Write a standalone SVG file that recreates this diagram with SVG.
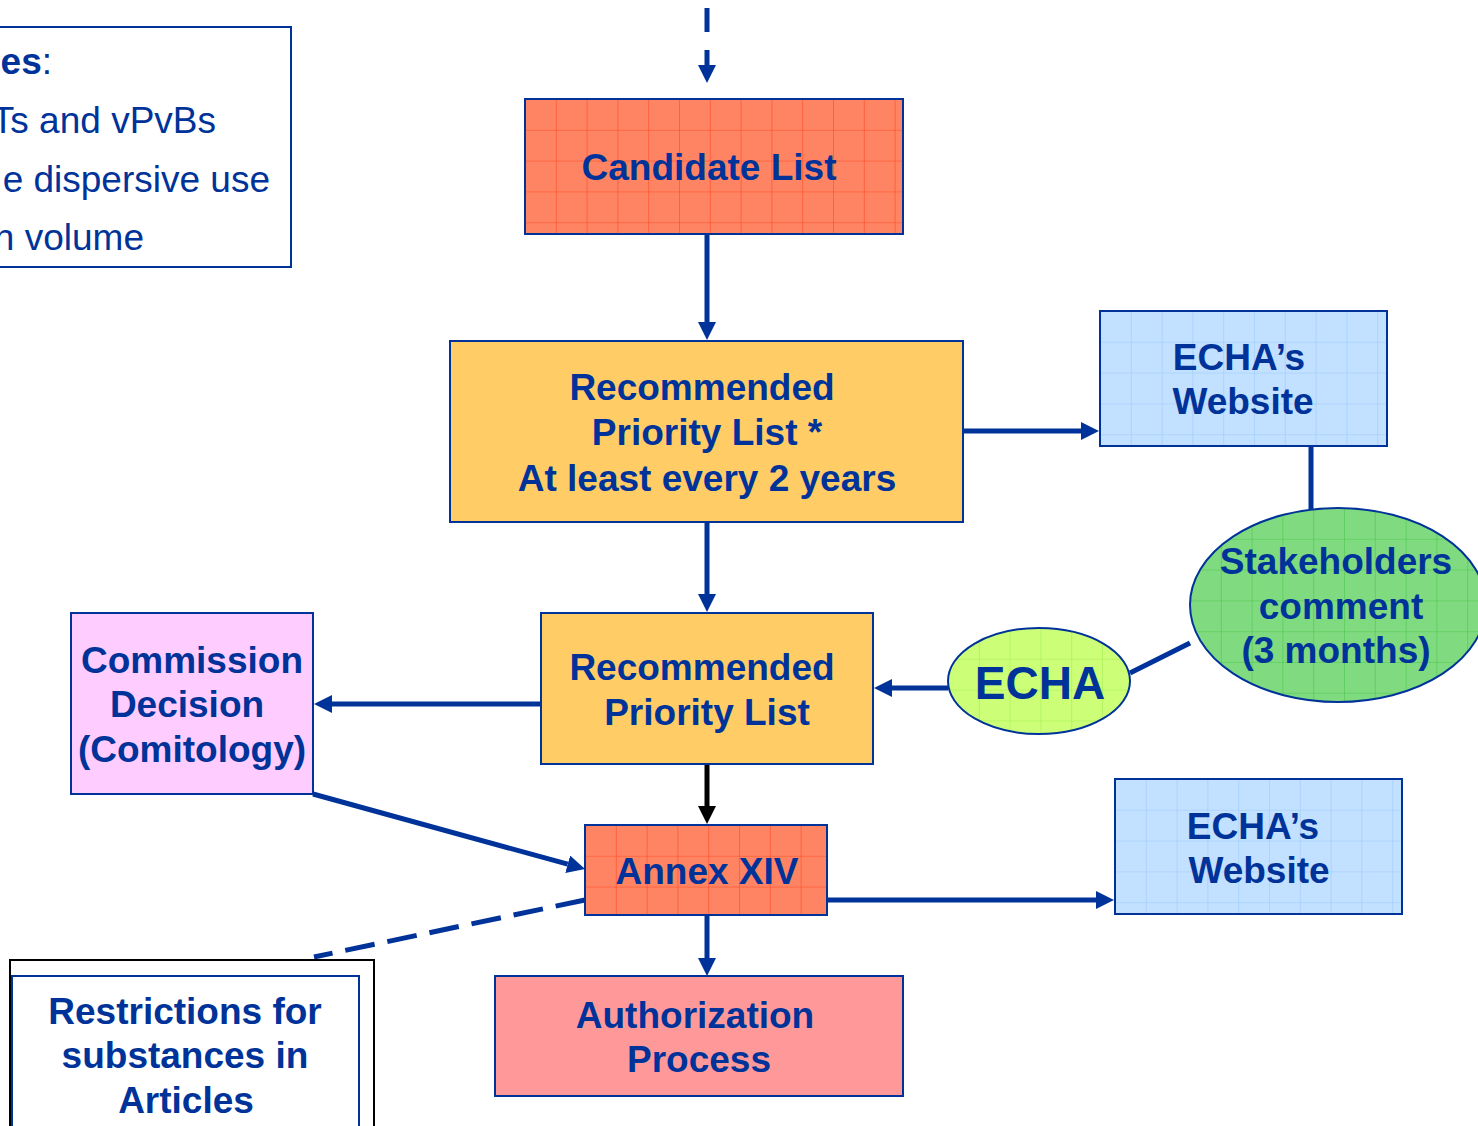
<svg xmlns="http://www.w3.org/2000/svg" width="1478" height="1126" viewBox="0 0 1478 1126">
<style>
.t{font-family:"Liberation Sans",Arial,sans-serif;font-weight:bold;font-size:37px;fill:#003399;text-anchor:middle}
.n{font-family:"Liberation Sans",Arial,sans-serif;font-size:37px;fill:#003399;text-anchor:end}
.box{stroke:#003399;stroke-width:2}
.c{stroke:#003399;stroke-width:5;fill:none}
.a{marker-end:url(#ah)}
</style>
<defs>
<marker id="ah" markerUnits="userSpaceOnUse" markerWidth="18" markerHeight="18" refX="0" refY="9" orient="auto"><path d="M0,0 L18,9 L0,18 z" fill="#003399"/></marker>
<marker id="ahk" markerUnits="userSpaceOnUse" markerWidth="18" markerHeight="18" refX="0" refY="9" orient="auto"><path d="M0,0 L18,9 L0,18 z" fill="#000"/></marker>
<pattern id="pCand" patternUnits="userSpaceOnUse" x="525" y="99" width="30.8" height="30.8"><rect width="30.8" height="30.8" fill="#FF8464"/><path d="M0,0 V30.8 M0,0 H30.8" stroke="#FF4A1F" stroke-width="1.2"/></pattern>
<pattern id="pAnnex" patternUnits="userSpaceOnUse" x="585" y="825" width="30.8" height="30.8"><rect width="30.8" height="30.8" fill="#FF8464"/><path d="M0,0 V30.8 M0,0 H30.8" stroke="#FF4A1F" stroke-width="1.2"/></pattern>
<pattern id="pWeb1" patternUnits="userSpaceOnUse" x="1100" y="311" width="30.8" height="30.8"><rect width="30.8" height="30.8" fill="#C2E0FF"/><path d="M0,0 V30.8 M0,0 H30.8" stroke="#9CCBFB" stroke-width="1.2"/></pattern>
<pattern id="pWeb2" patternUnits="userSpaceOnUse" x="1115" y="779" width="30.8" height="30.8"><rect width="30.8" height="30.8" fill="#C2E0FF"/><path d="M0,0 V30.8 M0,0 H30.8" stroke="#9CCBFB" stroke-width="1.2"/></pattern>
<pattern id="pStake" patternUnits="userSpaceOnUse" x="1190" y="508" width="30.8" height="30.8"><rect width="30.8" height="30.8" fill="#80DA80"/><path d="M0,0 V30.8 M0,0 H30.8" stroke="#4CC84C" stroke-width="1.2"/></pattern>
<pattern id="pEcha" patternUnits="userSpaceOnUse" x="948" y="628" width="30.8" height="30.8"><rect width="30.8" height="30.8" fill="#CCFF77"/><path d="M0,0 V30.8 M0,0 H30.8" stroke="#A6EC55" stroke-width="1.2"/></pattern>
</defs>

<g id="criteria">
<rect x="-10" y="27" width="301" height="240" fill="#fff" class="box"/>
<text class="n" x="52" y="74"><tspan font-weight="bold">es</tspan>:</text>
<text class="n" x="216" y="133">Ts and vPvBs</text>
<text class="n" x="270" y="192">e dispersive use</text>
<text class="n" x="144" y="250">n volume</text>
</g>

<g id="connectors">
<line class="c a" x1="707" y1="8" x2="707" y2="65" stroke-dasharray="24 18"/>
<line class="c a" x1="707" y1="234" x2="707" y2="322"/>
<line class="c a" x1="963" y1="431" x2="1081" y2="431"/>
<line class="c" x1="1311" y1="446" x2="1311" y2="509"/>
<line class="c" x1="1190" y1="643" x2="1130" y2="673"/>
<line class="c a" x1="707" y1="522" x2="707" y2="594"/>
<line class="c a" x1="948" y1="688" x2="892" y2="688"/>
<line class="c a" x1="541" y1="704" x2="332" y2="704"/>
<line x1="707" y1="764" x2="707" y2="806" stroke="#000" stroke-width="5" marker-end="url(#ahk)"/>
<line class="c a" x1="313" y1="794" x2="567.7" y2="864.2"/>
<line class="c a" x1="827" y1="900" x2="1096" y2="900"/>
<line class="c a" x1="707" y1="915" x2="707" y2="958"/>
<line class="c" x1="585" y1="900" x2="314" y2="957" stroke-dasharray="30 13"/>
</g>

<g id="candidate">
<rect x="525" y="99" width="378" height="135" fill="url(#pCand)" class="box"/>
<text class="t" x="709" y="180">Candidate List</text>
</g>

<g id="priority1">
<rect x="450" y="341" width="513" height="181" fill="#FFCC66" class="box"/>
<text class="t" x="702" y="400">Recommended</text>
<text class="t" x="707" y="445">Priority List *</text>
<text class="t" x="707" y="491">At least every 2 years</text>
</g>

<g id="website1">
<rect x="1100" y="311" width="287" height="135" fill="url(#pWeb1)" class="box"/>
<text class="t" x="1239" y="370">ECHA’s</text>
<text class="t" x="1243" y="414">Website</text>
</g>

<g id="stakeholders">
<ellipse cx="1338" cy="605" rx="148" ry="97" fill="url(#pStake)" class="box"/>
<text class="t" x="1336" y="574">Stakeholders</text>
<text class="t" x="1341" y="619">comment</text>
<text class="t" x="1336" y="663">(3 months)</text>
</g>

<g id="echa">
<ellipse cx="1039" cy="681" rx="91" ry="53" fill="url(#pEcha)" class="box"/>
<text class="t" x="1040" y="699" style="font-size:46px">ECHA</text>
</g>

<g id="priority2">
<rect x="541" y="613" width="332" height="151" fill="#FFCC66" class="box"/>
<text class="t" x="702" y="680">Recommended</text>
<text class="t" x="707" y="725">Priority List</text>
</g>

<g id="commission">
<rect x="71" y="613" width="242" height="181" fill="#FFCCFF" class="box"/>
<text class="t" x="192" y="673">Commission</text>
<text class="t" x="187" y="717">Decision</text>
<text class="t" x="192" y="762">(Comitology)</text>
</g>

<g id="annex">
<rect x="585" y="825" width="242" height="90" fill="url(#pAnnex)" class="box"/>
<text class="t" x="707" y="884">Annex XIV</text>
</g>

<g id="website2">
<rect x="1115" y="779" width="287" height="135" fill="url(#pWeb2)" class="box"/>
<text class="t" x="1253" y="839">ECHA’s</text>
<text class="t" x="1259" y="883">Website</text>
</g>

<g id="authorization">
<rect x="495" y="976" width="408" height="120" fill="#FF9999" class="box"/>
<text class="t" x="695" y="1028">Authorization</text>
<text class="t" x="699" y="1072">Process</text>
</g>

<g id="restrictions">
<rect x="10" y="960" width="364" height="200" fill="#fff" stroke="#000" stroke-width="2"/>
<rect x="12" y="976" width="347" height="200" fill="#fff" class="box"/>
<text class="t" x="185" y="1024">Restrictions for</text>
<text class="t" x="185" y="1068">substances in</text>
<text class="t" x="186" y="1113">Articles</text>
</g>
</svg>
